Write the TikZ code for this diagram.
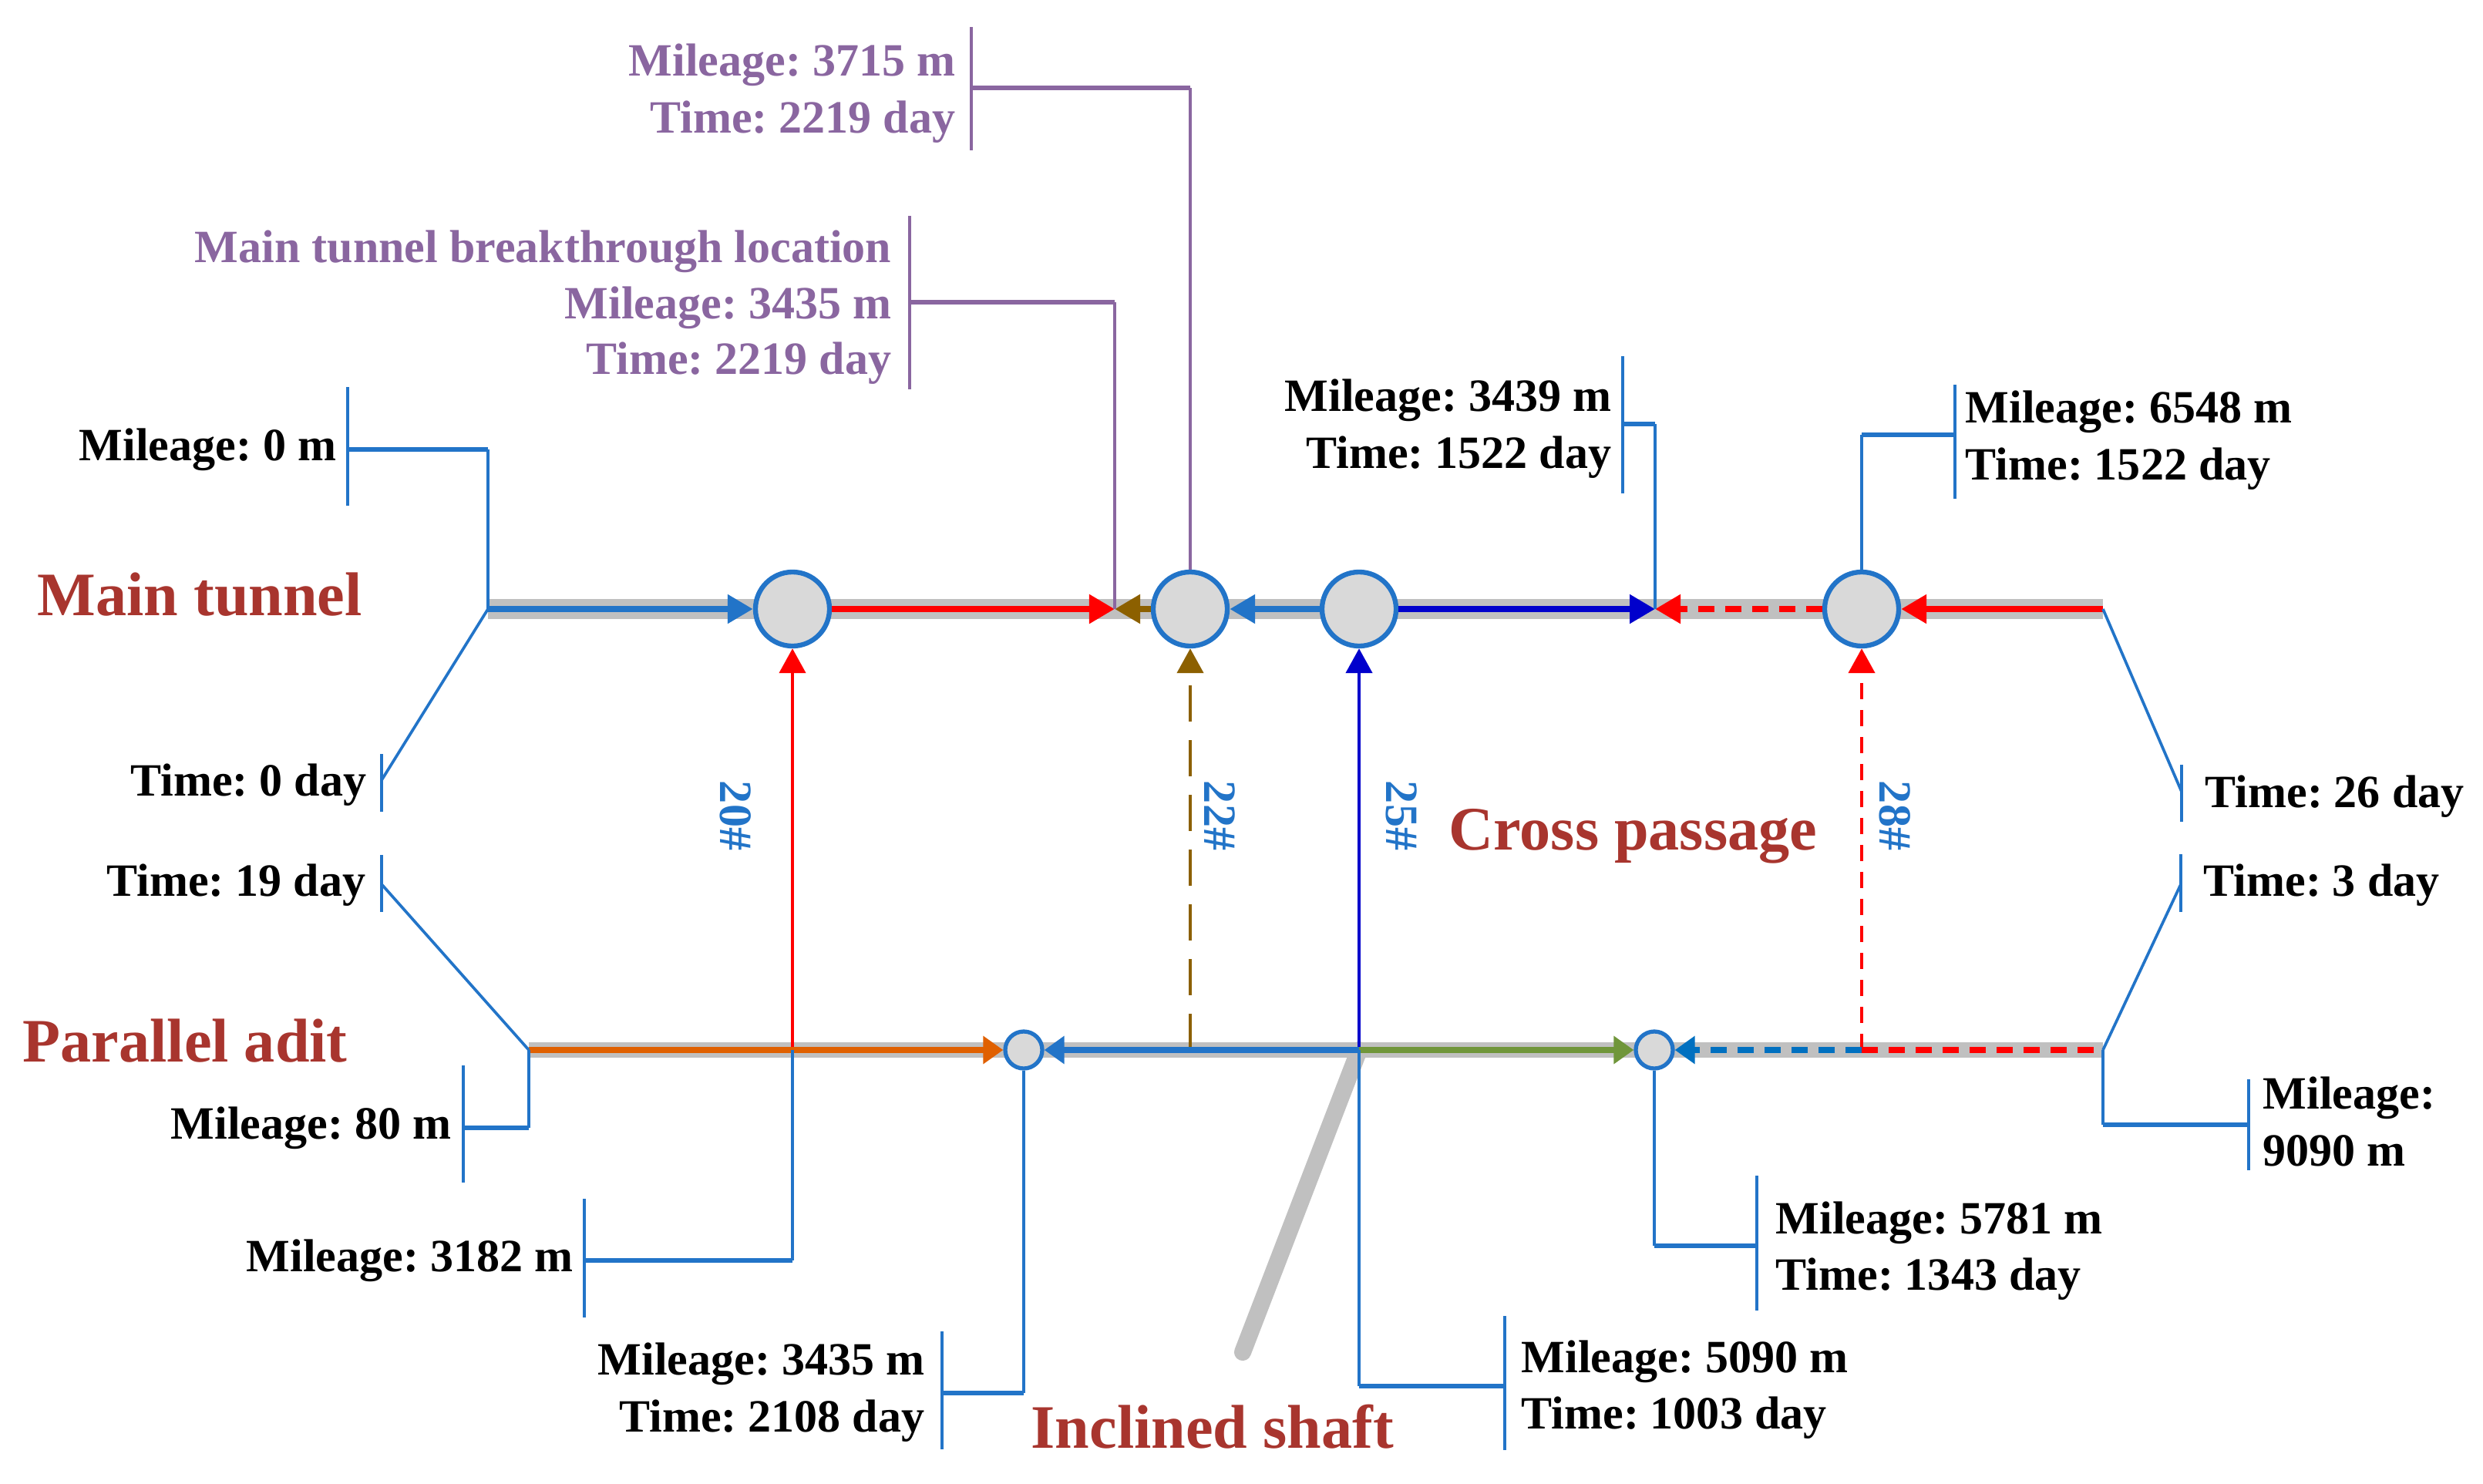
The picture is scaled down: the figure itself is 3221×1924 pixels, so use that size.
\documentclass[tikz,border=0pt]{standalone}
\usepackage{fontspec}
\setmainfont{Liberation Serif}
\usetikzlibrary{arrows.meta}
\frenchspacing
\definecolor{lblue}{RGB}{34,116,200}
\definecolor{dblue}{RGB}{0,0,204}
\definecolor{brn}{RGB}{140,96,0}
\definecolor{org}{RGB}{224,96,0}
\definecolor{grn}{RGB}{112,150,58}
\definecolor{dashblue}{RGB}{0,112,192}
\definecolor{purp}{RGB}{138,102,160}
\definecolor{titlered}{RGB}{168,53,46}
\definecolor{bandgray}{RGB}{192,192,192}
\definecolor{cfill}{RGB}{217,217,217}
\begin{document}
\begin{tikzpicture}[x=0.01cm,y=-0.01cm,
  bandM/.style={line width=7.4pt, draw=bandgray},
  bandP/.style={line width=5.7pt, draw=bandgray},
  shaftline/.style={line width=6.3pt, draw=bandgray, line cap=round},
  mline/.style={line width=2.4pt, -{Triangle[length=0.33cm,width=0.36cm]}},
  pline/.style={line width=2.1pt, -{Triangle[length=0.26cm,width=0.35cm]}},
  cpass/.style={line width=1.3pt, -{Triangle[length=0.32cm,width=0.34cm]}},
  sdash/.style={dash pattern=on 0.21cm off 0.14cm},
  bigc/.style={circle, draw=lblue, line width=1.8pt, fill=cfill, minimum size=0.96cm, inner sep=0pt},
  smallc/.style={circle, draw=lblue, line width=1.5pt, fill=cfill, minimum size=0.48cm, inner sep=0pt},
  lbar/.style={draw=lblue, line width=0.95pt},
  lthick/.style={draw=lblue, line width=1.8pt},
  llink/.style={draw=lblue, line width=1.4pt},
  ldiag/.style={draw=lblue, line width=1.05pt},
  pbar/.style={draw=purp, line width=0.95pt},
  pthick/.style={draw=purp, line width=1.8pt},
  plink/.style={draw=purp, line width=1.3pt},
  lab/.style={font=\fontsize{17.07pt}{21pt}\selectfont\bfseries, inner sep=0pt},
  plab/.style={lab, text=purp},
  ttl/.style={font=\fontsize{22.8pt}{27pt}\selectfont\bfseries, inner sep=0pt, text=titlered},
  num/.style={lab, text=lblue, rotate=-90}
]
\useasboundingbox (0,0) rectangle (3221,1924);

% key coordinates
\coordinate (mtL) at (633,790);
\coordinate (mtR) at (2728,790);
\coordinate (mA) at (1446,790);
\coordinate (mB) at (2147,790);
\coordinate (paL) at (686,1362);
\coordinate (paR) at (2728,1362);
\coordinate (j20) at (1028,1362);
\coordinate (j22) at (1544,1362);
\coordinate (j25) at (1763,1362);
\coordinate (j28) at (2415,1362);
\coordinate (shB) at (1612,1754);

% bands and shaft
\draw[bandM] (mtL) -- (mtR);
\draw[bandP] (paL) -- (paR);
\draw[shaftline] (j25) -- (shB);

% circles
\node[bigc] (c1) at (1028,790) {};
\node[bigc] (c2) at (1544,790) {};
\node[bigc] (c3) at (1763,790) {};
\node[bigc] (c4) at (2415,790) {};
\node[smallc] (p1) at (1328,1362) {};
\node[smallc] (p2) at (2146,1362) {};

% main tunnel
\draw[mline, lblue] (mtL) -- (c1);
\draw[mline, red] (c1) -- (mA);
\draw[mline, brn] (c2) -- (mA);
\draw[mline, lblue] (c3) -- (c2);
\draw[mline, dblue] (c3) -- (mB);
\draw[mline, red, sdash] (c4) -- (mB);
\draw[mline, red] (mtR) -- (c4);

% cross passages
\draw[cpass, red] (j20) -- (c1);
\draw[cpass, brn, dash pattern=on 0.47cm off 0.24cm] (j22) -- (c2);
\draw[cpass, dblue] (j25) -- (c3);
\draw[cpass, red, dash pattern=on 0.21cm off 0.14cm] (j28) -- (c4);

% parallel adit
\draw[pline, org] (paL) -- (p1);
\draw[pline, lblue] (j25) -- (p1);
\draw[pline, grn] (j25) -- (p2);
\draw[pline, dashblue, sdash] (j28) -- (p2);
\draw[line width=2.1pt, red, sdash] (j28) -- (paR);

% titles
\node[ttl, anchor=base west] (tmain) at (48,798) {Main tunnel};
\node[ttl, anchor=base west] (tpar) at (29,1377) {Parallel adit};
\node[ttl, anchor=base west] (tcross) at (1879,1102) {Cross passage};
\node[ttl, anchor=base west] (tshaft) at (1337,1878) {Inclined shaft};

% cross passage numbers
\node[num] (n20) at (954,1058) {20\#};
\node[num] (n22) at (1582,1058) {22\#};
\node[num] (n25) at (1818,1058) {25\#};
\node[num] (n28) at (2458,1058) {28\#};

% Mileage: 0 m
\node[lab, anchor=base east] (l1) at (437,597) {Mileage: 0 m};
\draw[lbar] (451,502) -- (451,656);
\coordinate (k1a) at (451,583); \coordinate (k1b) at (633,583);
\draw[lthick] (k1a) -- (k1b);
\draw[llink] (k1b) -- (mtL);

% Time: 0 day
\node[lab, anchor=base east] (l2) at (476,1032) {Time: 0 day};
\draw[lbar] (495,978) -- (495,1053);
\coordinate (k2) at (495,1012);
\draw[ldiag] (k2) -- (mtL);

% Time: 19 day
\node[lab, anchor=base east] (l3) at (475,1162) {Time: 19 day};
\draw[lbar] (495,1109) -- (495,1183);
\coordinate (k3) at (495,1147);
\draw[ldiag] (k3) -- (paL);

% Mileage: 80 m
\node[lab, anchor=base east] (l4) at (586,1477) {Mileage: 80 m};
\draw[lbar] (601,1382) -- (601,1534);
\coordinate (k4a) at (601,1463); \coordinate (k4b) at (686,1463);
\draw[lthick] (k4a) -- (k4b);
\draw[llink] (k4b) -- (paL);

% Mileage: 3182 m
\node[lab, anchor=base east] (l5) at (744,1649) {Mileage: 3182 m};
\draw[lbar] (758,1555) -- (758,1709);
\coordinate (k5a) at (758,1635); \coordinate (k5b) at (1028,1635);
\draw[lthick] (k5a) -- (k5b);
\draw[llink] (k5b) -- (j20);

% Mileage: 3435 m / Time: 2108 day
\node[lab, anchor=base east] (l6a) at (1200,1783) {Mileage: 3435 m};
\node[lab, anchor=base east] (l6b) at (1200,1857) {Time: 2108 day};
\draw[lbar] (1222,1727) -- (1222,1880);
\coordinate (k6a) at (1222,1807); \coordinate (k6b) at (1328,1807);
\draw[lthick] (k6a) -- (k6b);
\draw[llink] (k6b) -- (p1);

% Mileage: 5090 m / Time: 1003 day
\node[lab, anchor=base west] (l7a) at (1973,1780) {Mileage: 5090 m};
\node[lab, anchor=base west] (l7b) at (1973,1853) {Time: 1003 day};
\draw[lbar] (1952,1707) -- (1952,1881);
\coordinate (k7a) at (1952,1798); \coordinate (k7b) at (1763,1798);
\draw[lthick] (k7a) -- (k7b);
\draw[llink] (k7b) -- (j25);

% Mileage: 5781 m / Time: 1343 day
\node[lab, anchor=base west] (l8a) at (2303,1600) {Mileage: 5781 m};
\node[lab, anchor=base west] (l8b) at (2303,1673) {Time: 1343 day};
\draw[lbar] (2279,1525) -- (2279,1700);
\coordinate (k8a) at (2279,1616); \coordinate (k8b) at (2146,1616);
\draw[lthick] (k8a) -- (k8b);
\draw[llink] (k8b) -- (p2);

% Mileage: 9090 m
\node[lab, anchor=base west] (l9a) at (2935,1438) {Mileage:};
\node[lab, anchor=base west] (l9b) at (2935,1512) {9090 m};
\draw[lbar] (2917,1400) -- (2917,1518);
\coordinate (k9a) at (2917,1459); \coordinate (k9b) at (2728,1459);
\draw[lthick] (k9a) -- (k9b);
\draw[llink] (k9b) -- (paR);

% Time: 3 day
\node[lab, anchor=base west] (l10) at (2858,1162) {Time: 3 day};
\draw[lbar] (2829,1108) -- (2829,1183);
\coordinate (k10) at (2829,1147);
\draw[ldiag] (k10) -- (paR);

% Time: 26 day
\node[lab, anchor=base west] (l11) at (2860,1047) {Time: 26 day};
\draw[lbar] (2830,992) -- (2830,1066);
\coordinate (k11) at (2830,1027);
\draw[ldiag] (k11) -- (mtR);

% Mileage: 3439 m / Time: 1522 day
\node[lab, anchor=base east] (l12a) at (2091,533) {Mileage: 3439 m};
\node[lab, anchor=base east] (l12b) at (2091,607) {Time: 1522 day};
\draw[lbar] (2105,462) -- (2105,640);
\coordinate (k12a) at (2105,550); \coordinate (k12b) at (2147,550);
\draw[lthick] (k12a) -- (k12b);
\draw[llink] (k12b) -- (mB);

% Mileage: 6548 m / Time: 1522 day
\node[lab, anchor=base west] (l13a) at (2549,548) {Mileage: 6548 m};
\node[lab, anchor=base west] (l13b) at (2549,622) {Time: 1522 day};
\draw[lbar] (2536,499) -- (2536,647);
\coordinate (k13a) at (2536,564); \coordinate (k13b) at (2415,564);
\draw[lthick] (k13a) -- (k13b);
\draw[llink] (k13b) -- (c4);

% purple: Mileage: 3715 m / Time: 2219 day
\node[plab, anchor=base east] (l14a) at (1240,98) {Mileage: 3715 m};
\node[plab, anchor=base east] (l14b) at (1240,172) {Time: 2219 day};
\draw[pbar] (1260,35) -- (1260,195);
\coordinate (k14a) at (1260,114); \coordinate (k14b) at (1544,114);
\draw[pthick] (k14a) -- (k14b);
\draw[plink] (k14b) -- (c2);

% purple: breakthrough
\node[plab, anchor=base east] (l15a) at (1157,340) {Main tunnel breakthrough location};
\node[plab, anchor=base east] (l15b) at (1157,413) {Mileage: 3435 m};
\node[plab, anchor=base east] (l15c) at (1157,485) {Time: 2219 day};
\draw[pbar] (1180,280) -- (1180,505);
\coordinate (k15a) at (1180,392); \coordinate (k15b) at (1446,392);
\draw[pthick] (k15a) -- (k15b);
\draw[plink] (k15b) -- (mA);
\end{tikzpicture}
\end{document}
